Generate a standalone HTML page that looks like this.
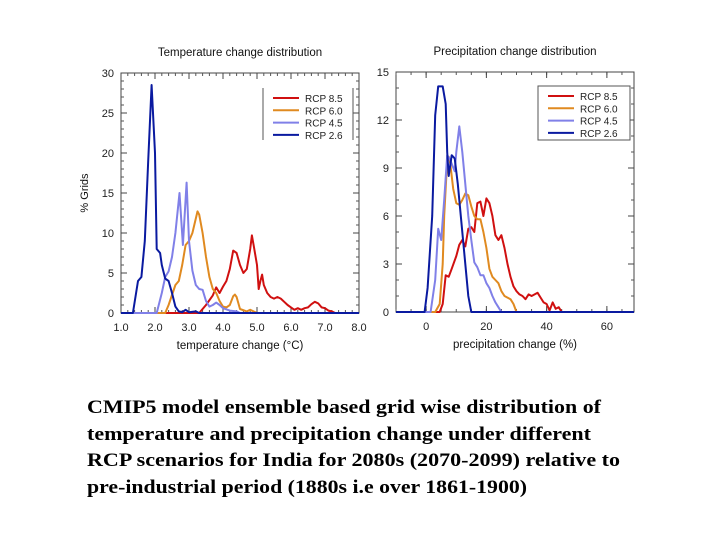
<!DOCTYPE html>
<html><head><meta charset="utf-8"><style>
body{margin:0;background:#fff;}
svg{display:block;font-family:"Liberation Sans",sans-serif;}
</style></head><body>
<svg id="s" width="720" height="540" viewBox="0 0 720 540">
<g id="left"></g>
<g id="right"></g>
<g font-family="Liberation Serif,serif" font-weight="bold" font-size="19" fill="#000">
<text x="87" y="413" textLength="514" lengthAdjust="spacingAndGlyphs">CMIP5 model ensemble based grid wise distribution of</text>
<text x="87" y="440" textLength="504" lengthAdjust="spacingAndGlyphs">temperature and precipitation change under different</text>
<text x="87" y="466" textLength="533" lengthAdjust="spacingAndGlyphs">RCP scenarios for India for 2080s (2070-2099) relative to</text>
<text x="87" y="493" textLength="440" lengthAdjust="spacingAndGlyphs">pre-industrial period (1880s i.e over 1861-1900)</text>
</g>
</svg>
<script>
const colors=["#d01010","#e08a20","#8080e8","#0a1aa0"];
const seriesNames=["RCP 8.5","RCP 6.0","RCP 4.5","RCP 2.6"];
// Temperature chart data
const tX85=[1.0,3.3,3.5,3.7,3.8,3.9,4.0,4.1,4.2,4.3,4.4,4.5,4.6,4.7,4.8,4.85,4.9,5.0,5.05,5.1,5.15,5.2,5.3,5.4,5.5,5.6,5.7,5.8,5.9,6.0,6.1,6.2,6.3,6.4,6.5,6.6,6.7,6.8,6.9,7.0,7.1,7.2,7.3,8.0];
const tY85=[0,0,1,2.2,3.2,2.5,3.3,4,5.5,7.8,7.5,6,5,5.5,8,9.7,8.5,6,3,4,4.8,3.5,2.5,2,1.8,2,1.8,1.4,1,0.7,0.4,0.6,0.4,0.6,0.7,1.1,1.4,1.2,0.7,0.6,0.3,0.2,0,0];
const tX60=[1.0,2.3,2.4,2.6,2.7,2.8,2.9,3.0,3.1,3.25,3.3,3.4,3.5,3.6,3.7,3.8,3.9,4.0,4.1,4.2,4.3,4.35,4.4,4.5,4.7,4.8,4.9,5.0,8.0];
const tY60=[0,0,1,3.5,4,6,8.5,9,10,12.7,12.3,10,7,4.5,3,2.5,1.5,0.8,0.7,1.0,2.1,2.3,2.0,0.5,0.2,0.4,0.2,0,0];
const tX45=[1.0,2.05,2.2,2.3,2.4,2.5,2.6,2.72,2.82,2.93,3.0,3.1,3.2,3.3,3.4,3.5,3.6,3.7,3.8,3.9,4.0,4.2,4.4,4.5,8.0];
const tY45=[0,0,2.5,4.5,5.2,7,10,15,8.5,16.3,9,5.3,3.5,3,2.9,1.5,0.8,1.0,1.3,1.0,0.6,0.3,0.2,0,0];
const tX26=[1.0,1.35,1.5,1.6,1.7,1.8,1.9,2.0,2.05,2.15,2.2,2.3,2.4,2.5,2.6,2.7,2.8,2.9,3.0,3.2,3.3,8.0];
const tY26=[0,0,4,4.5,9,19,28.5,20,8,7.5,6,4.3,4,2.5,0.8,0.2,0.1,0.4,0.1,0.2,0,0];
const tXTicks=["1.0","2.0","3.0","4.0","5.0","6.0","7.0","8.0"];
const tYTicks=["0","5","10","15","20","25","30"];
// Precipitation chart data
const pX85=[-10,4.5,5.5,6.5,7.5,8.5,10,11,12,13,14,15,16,17,18,19,20,21,22,23,24,25,26,27,28,29,30,31,32,33,34,35,36,37,38,39,40,41,42,43,44,45,69];
const pY85=[0,0,0.5,2.3,2.2,2.7,3.5,4.2,4.5,4.1,5.2,5.3,5,6.8,6.9,6,7.1,6.8,6,4.8,4.5,4.8,4,3,2.2,1.6,1.3,1.1,1.0,0.8,1.1,1.0,1.1,1.2,0.9,0.6,0.5,0.1,0.6,0.2,0.3,0,0];
const pX60=[-10,3,4.5,5.5,6,7,7.5,8,9,10,11,12,13,14,15,16,17,18,19,20,21,22,23,24,25,26,27,28,29,30,69];
const pY60=[0,0,0.5,3,6,9.5,9.7,9.3,7.7,6.8,6.7,7,7.4,7.3,6.6,6,5.8,5.8,5,4,2.7,2.2,2,1.8,1.3,1.0,0.9,0.8,0.5,0,0];
const pX45=[-10,1.5,3,4,5,6,7,8,9.5,10,11,12,13,14,15,16,17,18,19,20,21,22,23,24,25,69];
const pY45=[0,0,2,5.2,4.5,7,9.8,9.5,8.8,10,11.6,10,8,6,4.5,3.1,2.8,2.3,2.3,1.8,1.5,1,0.6,0.3,0,0];
const pX26=[-10,-0.5,0.5,2,3,4,5.5,6.5,7,7.5,8.5,9.5,10.5,11,12,13,14,15,69];
const pY26=[0,0,1.5,6,12.3,14.1,14.1,13,10,8.5,9.8,9.6,8,7,5,3,1,0,0];
const pXTicks=["-10","0","20","40","60"];
const pYTicks=["0","3","6","9","12","15"];

const NS="http://www.w3.org/2000/svg";
function mk(parent,tag,attrs){const e=document.createElementNS(NS,tag);for(const k in attrs)e.setAttribute(k,attrs[k]);parent.appendChild(e);return e;}

function chart(g,box,xd,yd,xs,ys,xTicks,yTicks,minorX,minorY,title,xlabel,ylabel,legendBox,legendFull){
  const sx=v=>box.l+(v-xd[0])/(xd[1]-xd[0])*(box.r-box.l);
  const sy=v=>box.b-(v-yd[0])/(yd[1]-yd[0])*(box.b-box.t);
  const frame=mk(g,"rect",{x:box.l,y:box.t,width:box.r-box.l,height:box.b-box.t,fill:"none",stroke:"#444","stroke-width":1});
  
  
  // minor ticks
  for(let v=xd[0];v<=xd[1]+1e-9;v+=minorX){const x=sx(v);
    mk(g,"line",{x1:x,x2:x,y1:box.b,y2:box.b-3,stroke:"#555"});mk(g,"line",{x1:x,x2:x,y1:box.t,y2:box.t+3,stroke:"#555"});}
  for(let v=yd[0];v<=yd[1]+1e-9;v+=minorY){const y=sy(v);
    mk(g,"line",{x1:box.l,x2:box.l+3,y1:y,y2:y,stroke:"#555"});mk(g,"line",{x1:box.r,x2:box.r-3,y1:y,y2:y,stroke:"#555"});}
  xTicks.forEach(t=>{const v=parseFloat(t);if(v<xd[0]-1e-9)return;const x=sx(v);
    mk(g,"line",{x1:x,x2:x,y1:box.b,y2:box.b-6,stroke:"#444"});mk(g,"line",{x1:x,x2:x,y1:box.t,y2:box.t+6,stroke:"#444"});
    const tx=mk(g,"text",{x:x,y:box.b+18,"font-size":11,"text-anchor":"middle",fill:"#222"});tx.textContent=t;
    
    });
  yTicks.forEach(t=>{const v=parseFloat(t);const y=sy(v);
    mk(g,"line",{x1:box.l,x2:box.l+6,y1:y,y2:y,stroke:"#444"});mk(g,"line",{x1:box.r,x2:box.r-6,y1:y,y2:y,stroke:"#444"});
    const tx=mk(g,"text",{x:box.l-7,y:y+4,"font-size":11,"text-anchor":"end",fill:"#222"});tx.textContent=t;
    
    });
  xs.forEach((X,i)=>{const Y=ys[i];const d=X.map((v,j)=>(j?"L":"M")+sx(v).toFixed(1)+","+sy(Y[j]).toFixed(1)).join("");
    const p=mk(g,"path",{d:d,fill:"none",stroke:colors[i],"stroke-width":2,"stroke-linejoin":"round"});
    
    });
  const tt=mk(g,"text",{x:(box.l+box.r)/2,y:box.t-17,"font-size":11.5,"text-anchor":"middle",fill:"#111"});tt.textContent=title;
  
  
  const xl=mk(g,"text",{x:(box.l+box.r)/2,y:box.b+36,"font-size":11.5,"text-anchor":"middle",fill:"#111"});xl.textContent=xlabel;
  
  
  if(ylabel){const yl=mk(g,"text",{x:0,y:0,"font-size":11,"text-anchor":"middle",fill:"#111",transform:`translate(88,${(box.t+box.b)/2}) rotate(-90)`});yl.textContent=ylabel;
    
    }
  const lg=mk(g,"g",{});
  
  
  if(legendFull)mk(lg,"rect",{x:legendBox.x,y:legendBox.y,width:legendBox.w,height:legendBox.h,fill:"#fff",stroke:"#555"});
  else{mk(lg,"line",{x1:legendBox.x,x2:legendBox.x,y1:legendBox.y,y2:legendBox.y+legendBox.h,stroke:"#555"});
    mk(lg,"line",{x1:legendBox.x+legendBox.w,x2:legendBox.x+legendBox.w,y1:legendBox.y,y2:legendBox.y+legendBox.h,stroke:"#555"});}
  seriesNames.forEach((n,i)=>{const y=legendBox.y+10+i*12.3;
    mk(lg,"line",{x1:legendBox.x+10,x2:legendBox.x+36,y1:y,y2:y,stroke:colors[i],"stroke-width":2});
    const t=mk(lg,"text",{x:legendBox.x+42,y:y+4,"font-size":10,fill:"#222"});t.textContent=n;
    
    });
}
chart(document.getElementById("left"),{l:121,r:359,t:73,b:313},[1,8],[0,30],
  [tX85,tX60,tX45,tX26],[tY85,tY60,tY45,tY26],tXTicks,tYTicks,0.2,1,
  "Temperature change distribution","temperature change (\u00B0C)","% Grids",{x:263,y:88,w:90,h:52},false);
chart(document.getElementById("right"),{l:396,r:634,t:72,b:312},[-10,69],[0,15],
  [pX85,pX60,pX45,pX26],[pY85,pY60,pY45,pY26],pXTicks.slice(1),pYTicks,5,1,
  "Precipitation change distribution","precipitation change (%)",null,{x:538,y:86,w:92,h:54},true);
</script>
</body></html>
